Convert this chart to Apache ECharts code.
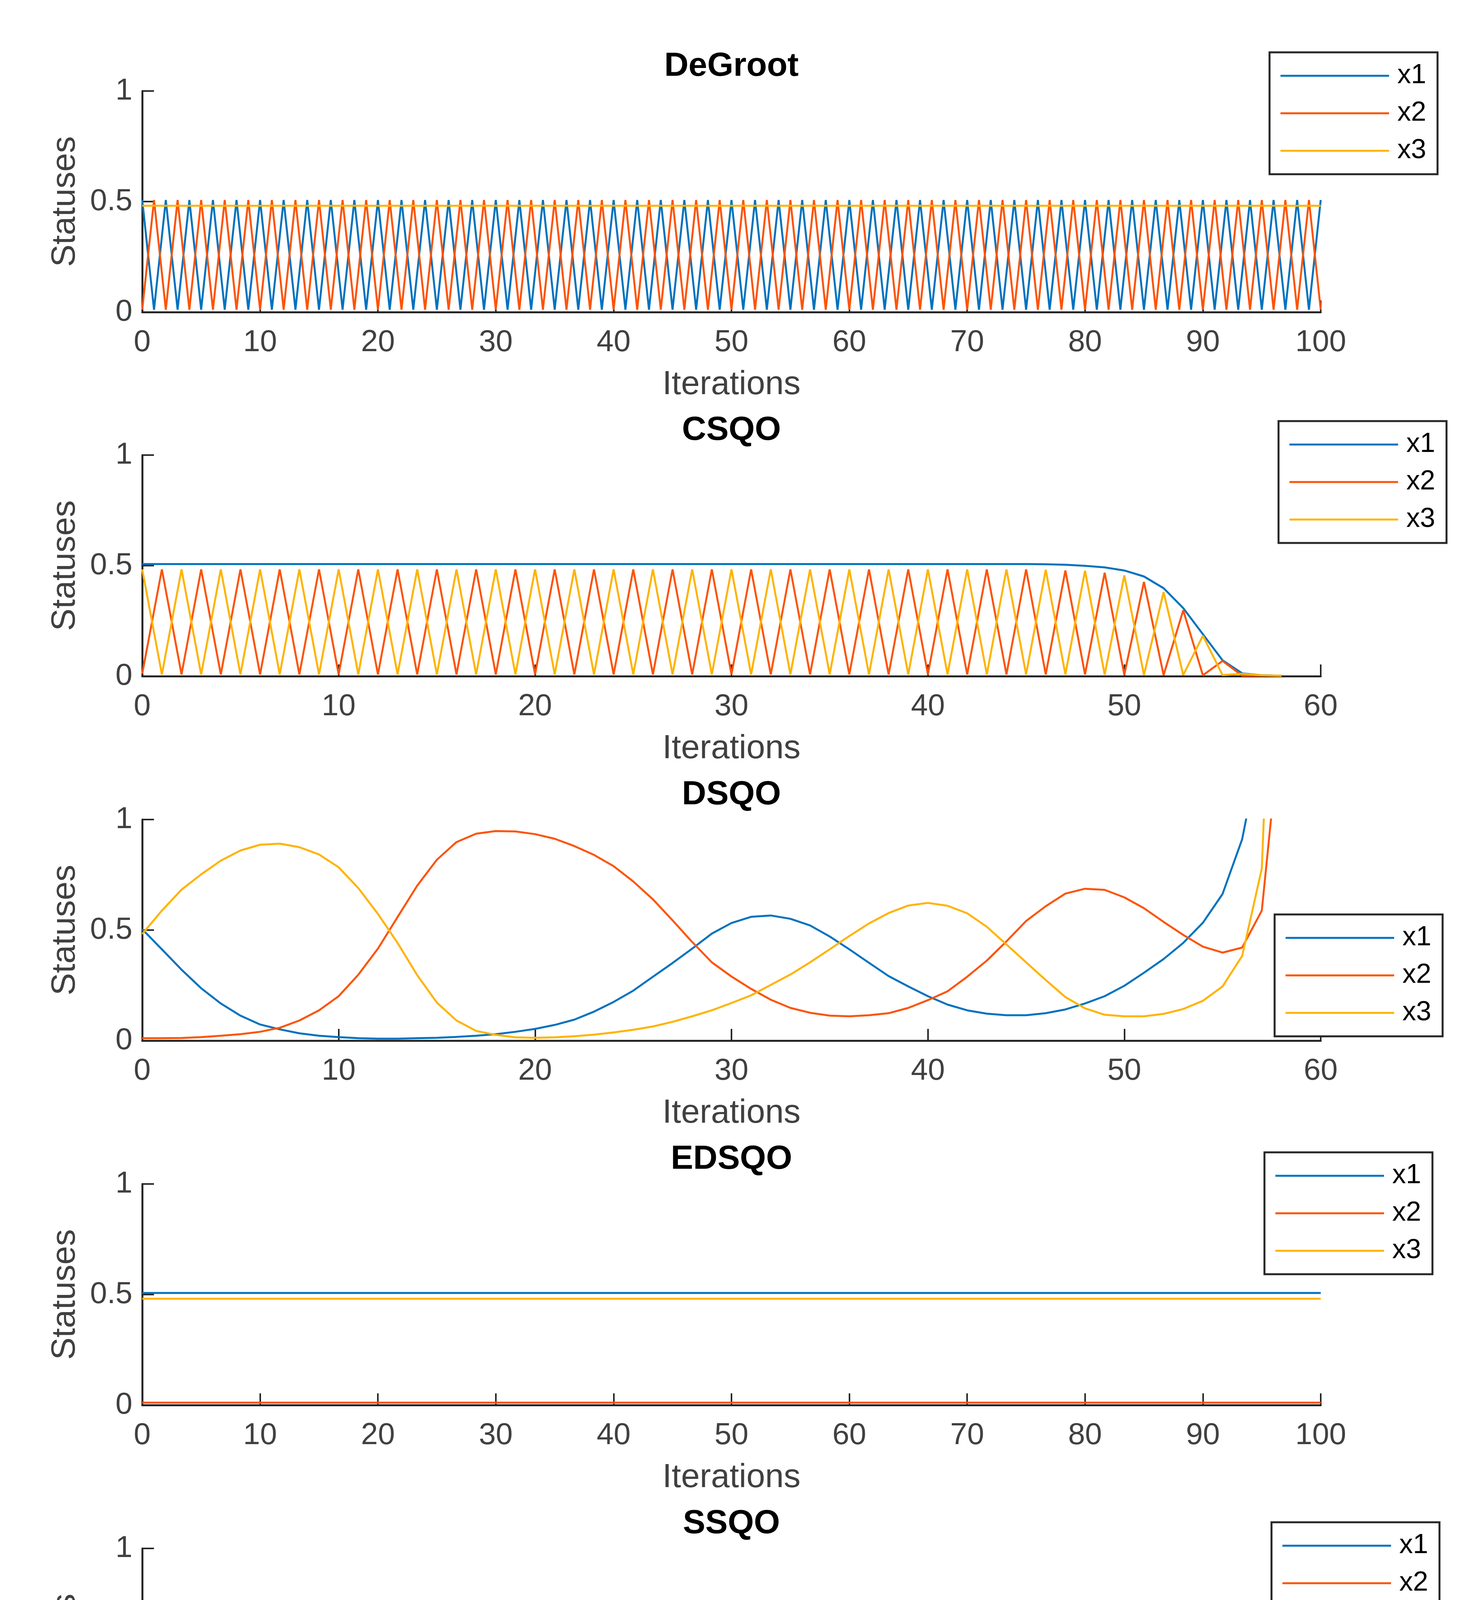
<!DOCTYPE html>
<html>
<head>
<meta charset="utf-8">
<script src="https://cdn.jsdelivr.net/npm/echarts@6/dist/echarts.min.js"></script>
<style>
  body { margin: 0; background: #fff; }
</style>
</head>
<body>
<div id="main" style="width: 3739px;height: 4808px"></div>

<script type="text/javascript">
    // values, one array per line, index = iteration
    var degrootX1 = [
        0.507,0.011,0.507,0.011,0.507,0.011,0.507,0.011,0.507,0.011,
        0.507,0.011,0.507,0.011,0.507,0.011,0.507,0.011,0.507,0.011,
        0.507,0.011,0.507,0.011,0.507,0.011,0.507,0.011,0.507,0.011,
        0.507,0.011,0.507,0.011,0.507,0.011,0.507,0.011,0.507,0.011,
        0.507,0.011,0.507,0.011,0.507,0.011,0.507,0.011,0.507,0.011,
        0.507,0.011,0.507,0.011,0.507,0.011,0.507,0.011,0.507,0.011,
        0.507,0.011,0.507,0.011,0.507,0.011,0.507,0.011,0.507,0.011,
        0.507,0.011,0.507,0.011,0.507,0.011,0.507,0.011,0.507,0.011,
        0.507,0.011,0.507,0.011,0.507,0.011,0.507,0.011,0.507,0.011,
        0.507,0.011,0.507,0.011,0.507,0.011,0.507,0.011,0.507,0.011,
        0.507
    ];
    var degrootX2 = [
        0.011,0.507,0.011,0.507,0.011,0.507,0.011,0.507,0.011,0.507,
        0.011,0.507,0.011,0.507,0.011,0.507,0.011,0.507,0.011,0.507,
        0.011,0.507,0.011,0.507,0.011,0.507,0.011,0.507,0.011,0.507,
        0.011,0.507,0.011,0.507,0.011,0.507,0.011,0.507,0.011,0.507,
        0.011,0.507,0.011,0.507,0.011,0.507,0.011,0.507,0.011,0.507,
        0.011,0.507,0.011,0.507,0.011,0.507,0.011,0.507,0.011,0.507,
        0.011,0.507,0.011,0.507,0.011,0.507,0.011,0.507,0.011,0.507,
        0.011,0.507,0.011,0.507,0.011,0.507,0.011,0.507,0.011,0.507,
        0.011,0.507,0.011,0.507,0.011,0.507,0.011,0.507,0.011,0.507,
        0.011,0.507,0.011,0.507,0.011,0.507,0.011,0.507,0.011,0.507,
        0.011
    ];
    var degrootX3 = [
        0.481,0.481,0.481,0.481,0.481,0.481,0.481,0.481,0.481,0.481,
        0.481,0.481,0.481,0.481,0.481,0.481,0.481,0.481,0.481,0.481,
        0.481,0.481,0.481,0.481,0.481,0.481,0.481,0.481,0.481,0.481,
        0.481,0.481,0.481,0.481,0.481,0.481,0.481,0.481,0.481,0.481,
        0.481,0.481,0.481,0.481,0.481,0.481,0.481,0.481,0.481,0.481,
        0.481,0.481,0.481,0.481,0.481,0.481,0.481,0.481,0.481,0.481,
        0.481,0.481,0.481,0.481,0.481,0.481,0.481,0.481,0.481,0.481,
        0.481,0.481,0.481,0.481,0.481,0.481,0.481,0.481,0.481,0.481,
        0.481,0.481,0.481,0.481,0.481,0.481,0.481,0.481,0.481,0.481,
        0.481,0.481,0.481,0.481,0.481,0.481,0.481,0.481,0.481,0.481,
        0.481
    ];

    var csqoX1 = [
        0.507,0.507,0.507,0.507,0.507,0.507,0.507,0.507,0.507,0.507,
        0.507,0.507,0.507,0.507,0.507,0.507,0.507,0.507,0.507,0.507,
        0.507,0.507,0.507,0.507,0.507,0.507,0.507,0.507,0.507,0.507,
        0.507,0.507,0.507,0.507,0.507,0.507,0.507,0.507,0.507,0.507,
        0.507,0.507,0.507,0.507,0.507,0.507,0.506,0.504,0.499,0.492,
        0.478,0.451,0.398,0.308,0.190,0.072,0.013,0.004,0.002
    ];
    var csqoX2 = [
        0.011,0.483,0.008,0.483,0.008,0.483,0.008,0.483,0.008,0.483,
        0.008,0.483,0.008,0.483,0.008,0.483,0.008,0.483,0.008,0.483,
        0.008,0.483,0.008,0.483,0.008,0.483,0.008,0.483,0.008,0.483,
        0.008,0.483,0.008,0.483,0.008,0.483,0.008,0.483,0.008,0.483,
        0.008,0.483,0.008,0.483,0.008,0.483,0.008,0.478,0.008,0.468,
        0.006,0.426,0.005,0.298,0.004,0.069,0.002,0.003,0.001
    ];
    var csqoX3 = [
        0.483,0.008,0.483,0.008,0.483,0.008,0.483,0.008,0.483,0.008,
        0.483,0.008,0.483,0.008,0.483,0.008,0.483,0.008,0.483,0.008,
        0.483,0.008,0.483,0.008,0.483,0.008,0.483,0.008,0.483,0.008,
        0.483,0.008,0.483,0.008,0.483,0.008,0.483,0.008,0.483,0.008,
        0.483,0.008,0.483,0.008,0.483,0.008,0.481,0.008,0.477,0.007,
        0.456,0.006,0.380,0.005,0.183,0.005,0.011,0.004,0.002
    ];

    var dsqoX1 = [
        0.504,0.413,0.321,0.237,0.168,0.113,0.073,0.051,0.033,0.022,
        0.016,0.011,0.009,0.009,0.011,0.013,0.017,0.022,0.029,0.040,
        0.053,0.071,0.095,0.131,0.175,0.226,0.289,0.351,0.416,0.484,
        0.532,0.560,0.566,0.551,0.521,0.471,0.413,0.352,0.292,0.245,
        0.201,0.163,0.137,0.122,0.115,0.115,0.124,0.141,0.168,0.201,
        0.248,0.307,0.369,0.442,0.533,0.663,0.911,1.360,2.500
    ];
    var dsqoX2 = [
        0.011,0.011,0.012,0.016,0.022,0.029,0.040,0.058,0.091,0.137,
        0.201,0.298,0.416,0.559,0.701,0.818,0.898,0.936,0.948,0.946,
        0.934,0.913,0.880,0.840,0.789,0.720,0.639,0.544,0.446,0.354,
        0.290,0.234,0.185,0.148,0.126,0.113,0.110,0.115,0.124,0.148,
        0.183,0.223,0.289,0.362,0.449,0.541,0.608,0.665,0.687,0.682,
        0.648,0.599,0.537,0.478,0.425,0.398,0.421,0.588,1.470
    ];
    var dsqoX3 = [
        0.482,0.588,0.683,0.752,0.814,0.860,0.886,0.891,0.875,0.842,
        0.784,0.690,0.573,0.442,0.296,0.172,0.091,0.044,0.026,0.015,
        0.013,0.015,0.020,0.027,0.037,0.049,0.064,0.085,0.110,0.137,
        0.170,0.205,0.252,0.299,0.354,0.413,0.473,0.530,0.577,0.611,
        0.623,0.610,0.576,0.515,0.435,0.354,0.274,0.197,0.146,0.117,
        0.110,0.110,0.121,0.143,0.180,0.245,0.383,0.778,3.000
    ];

    var edsqoX1 = [
        0.507,0.507,0.507,0.507,0.507,0.507,0.507,0.507,0.507,0.507,
        0.507,0.507,0.507,0.507,0.507,0.507,0.507,0.507,0.507,0.507,
        0.507,0.507,0.507,0.507,0.507,0.507,0.507,0.507,0.507,0.507,
        0.507,0.507,0.507,0.507,0.507,0.507,0.507,0.507,0.507,0.507,
        0.507,0.507,0.507,0.507,0.507,0.507,0.507,0.507,0.507,0.507,
        0.507,0.507,0.507,0.507,0.507,0.507,0.507,0.507,0.507,0.507,
        0.507,0.507,0.507,0.507,0.507,0.507,0.507,0.507,0.507,0.507,
        0.507,0.507,0.507,0.507,0.507,0.507,0.507,0.507,0.507,0.507,
        0.507,0.507,0.507,0.507,0.507,0.507,0.507,0.507,0.507,0.507,
        0.507,0.507,0.507,0.507,0.507,0.507,0.507,0.507,0.507,0.507,
        0.507
    ];
    var edsqoX2 = [
        0.011,0.011,0.011,0.011,0.011,0.011,0.011,0.011,0.011,0.011,
        0.011,0.011,0.011,0.011,0.011,0.011,0.011,0.011,0.011,0.011,
        0.011,0.011,0.011,0.011,0.011,0.011,0.011,0.011,0.011,0.011,
        0.011,0.011,0.011,0.011,0.011,0.011,0.011,0.011,0.011,0.011,
        0.011,0.011,0.011,0.011,0.011,0.011,0.011,0.011,0.011,0.011,
        0.011,0.011,0.011,0.011,0.011,0.011,0.011,0.011,0.011,0.011,
        0.011,0.011,0.011,0.011,0.011,0.011,0.011,0.011,0.011,0.011,
        0.011,0.011,0.011,0.011,0.011,0.011,0.011,0.011,0.011,0.011,
        0.011,0.011,0.011,0.011,0.011,0.011,0.011,0.011,0.011,0.011,
        0.011,0.011,0.011,0.011,0.011,0.011,0.011,0.011,0.011,0.011,
        0.011
    ];
    var edsqoX3 = [
        0.481,0.481,0.481,0.481,0.481,0.481,0.481,0.481,0.481,0.481,
        0.481,0.481,0.481,0.481,0.481,0.481,0.481,0.481,0.481,0.481,
        0.481,0.481,0.481,0.481,0.481,0.481,0.481,0.481,0.481,0.481,
        0.481,0.481,0.481,0.481,0.481,0.481,0.481,0.481,0.481,0.481,
        0.481,0.481,0.481,0.481,0.481,0.481,0.481,0.481,0.481,0.481,
        0.481,0.481,0.481,0.481,0.481,0.481,0.481,0.481,0.481,0.481,
        0.481,0.481,0.481,0.481,0.481,0.481,0.481,0.481,0.481,0.481,
        0.481,0.481,0.481,0.481,0.481,0.481,0.481,0.481,0.481,0.481,
        0.481,0.481,0.481,0.481,0.481,0.481,0.481,0.481,0.481,0.481,
        0.481,0.481,0.481,0.481,0.481,0.481,0.481,0.481,0.481,0.481,
        0.481
    ];

    var ssqoX1 = [0.509,0.383,0.377,0.349,0.343,0.342,0.340,0.339,0.338,0.338,0.337,0.337,0.337,0.337,0.337];
    var ssqoX2 = [0.011,0.370,0.293,0.325,0.329,0.333,0.334,0.335,0.335,0.335,0.335,0.335,0.335,0.335,0.335];
    var ssqoX3 = [0.485,0.259,0.340,0.337,0.336,0.336,0.336,0.336,0.336,0.336,0.336,0.336,0.336,0.336,0.336];

    var seriesNames = ['x1', 'x2', 'x3'];
    var titles = ['DeGroot', 'CSQO', 'DSQO', 'EDSQO', 'SSQO'];
    var xMaxes = [100, 60, 60, 100, 14];
    var xSteps = [10, 10, 10, 10, 2];
    var yTicks = [0, 0.5, 1];
    var panelData = [
        [degrootX1, degrootX2, degrootX3],
        [csqoX1, csqoX2, csqoX3],
        [dsqoX1, dsqoX2, dsqoX3],
        [edsqoX1, edsqoX2, edsqoX3],
        [ssqoX1, ssqoX2, ssqoX3]
    ];

    // layout (pixels)
    var colors = ['#0072BD', '#FC5409', '#FFB300'];
    var font = '"Liberation Sans", Arial, Helvetica, sans-serif';
    var gridLeft = 364, gridWidth = 3016, gridHeight = 566;
    var gridTops = [233, 1165, 2098, 3031, 3964];
    var legendPos = [[3249, 134], [3272, 1078], [3262, 2341], [3236, 2950], [3254, 3897]];
    var axisColor = '#262626', labelColor = '#404040';

    var myChart = echarts.init(document.getElementById('main'), null, {renderer: 'canvas'});

    var option = {
        animation: false,
        backgroundColor: '#fff',
        title: [], grid: [], xAxis: [], yAxis: [], legend: [], series: []
    };

    for (var p = 0; p < titles.length; p++) {
        option.title.push({
            text: titles[p],
            left: gridLeft + gridWidth / 2,
            top: gridTops[p] - 106,
            textAlign: 'center',
            padding: 0,
            textStyle: {fontSize: 86, fontWeight: 'bold', color: '#000', fontFamily: font}
        });
        option.grid.push({left: gridLeft, top: gridTops[p], width: gridWidth, height: gridHeight, containLabel: false});
        option.xAxis.push({
            type: 'value', gridIndex: p, min: 0, max: xMaxes[p], interval: xSteps[p],
            name: 'Iterations', nameLocation: 'middle', nameGap: 143,
            nameTextStyle: {fontSize: 86, color: labelColor, fontFamily: font},
            axisLine: {show: true, onZero: false, lineStyle: {color: axisColor, width: 5}},
            axisTick: {show: true, inside: true, length: 30, lineStyle: {color: axisColor, width: 4}},
            axisLabel: {fontSize: 78, color: labelColor, margin: 39, fontFamily: font},
            splitLine: {show: false}
        });
        option.yAxis.push({
            type: 'value', gridIndex: p, min: yTicks[0], max: yTicks[2], interval: yTicks[1],
            name: 'Statuses', nameLocation: 'middle', nameGap: 154,
            nameTextStyle: {fontSize: 86, color: labelColor, fontFamily: font},
            axisLine: {show: true, onZero: false, lineStyle: {color: axisColor, width: 5}},
            axisTick: {show: true, inside: true, length: 30, lineStyle: {color: axisColor, width: 4}},
            axisLabel: {fontSize: 78, color: labelColor, margin: 25, fontFamily: font},
            splitLine: {show: false}
        });
        option.legend.push({
            data: seriesNames,
            orient: 'vertical',
            left: legendPos[p][0], top: legendPos[p][1],
            padding: [25, 29, 25, 28],
            itemWidth: 278, itemHeight: 5, itemGap: 26,
            icon: 'rect',
            itemStyle: {borderWidth: 0},
            borderColor: axisColor, borderWidth: 5, backgroundColor: '#fff',
            selectedMode: false,
            textStyle: {fontSize: 70, lineHeight: 70, color: '#000', fontFamily: font, padding: [0, 0, 0, 16]}
        });
        for (var k = 0; k < 3; k++) {
            option.series.push({
                type: 'line',
                name: seriesNames[k],
                xAxisIndex: p, yAxisIndex: p,
                data: panelData[p][k].map(function (v, i) { return [i, v]; }),
                symbol: 'none', showSymbol: false,
                clip: true,
                lineStyle: {width: 5, color: colors[k]},
                itemStyle: {color: colors[k]},
                emphasis: {disabled: true}
            });
        }
    }

    myChart.setOption(option);
</script>
</body>
</html>
